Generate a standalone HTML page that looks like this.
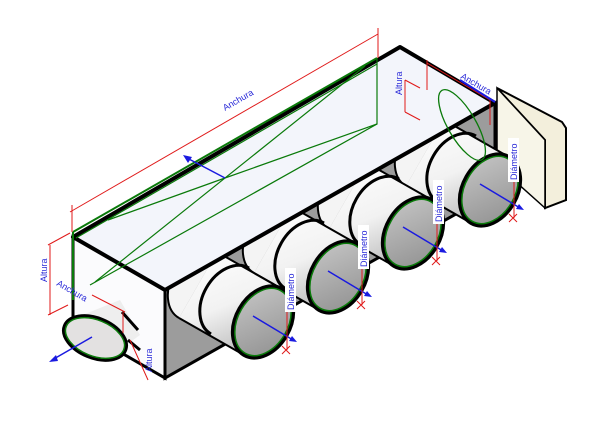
<!DOCTYPE html>
<html><head><meta charset="utf-8"><style>
html,body{margin:0;padding:0;background:#fff;width:600px;height:425px;overflow:hidden}
text{font-family:"Liberation Sans",sans-serif;font-size:9px;fill:#2a2ad8}
</style></head><body>
<svg width="600" height="425" viewBox="0 0 600 425" xmlns="http://www.w3.org/2000/svg">
<defs>
<linearGradient id="cyl" x1="0" y1="0" x2="0.4" y2="1">
<stop offset="0" stop-color="#ffffff"/><stop offset="0.6" stop-color="#f2f2f2"/><stop offset="1" stop-color="#c4c4c4"/></linearGradient>
<linearGradient id="cap" x1="0" y1="0" x2="1" y2="1">
<stop offset="0" stop-color="#c8c8c8"/><stop offset="1" stop-color="#8e8e8e"/></linearGradient>
<g id="c">
<polygon points="19,-33 -19,33 -84,-4 -46,-70" fill="url(#cyl)"/>
<path d="M-46,-70 A27,38 30 0,0 -84,-4" fill="#f4f4f4" stroke="#000" stroke-width="2"/>
<line x1="19" y1="-33" x2="-46" y2="-70" stroke="#000" stroke-width="2"/>
<line x1="-19" y1="33" x2="-84" y2="-4" stroke="#000" stroke-width="2"/>
<path d="M-14,-54 A27,38 30 0,0 -52,12" fill="none" stroke="#000" stroke-width="3"/>
<ellipse cx="0" cy="0" rx="27" ry="38" transform="rotate(30 0 0)" fill="url(#cap)" stroke="#000" stroke-width="4"/>
<ellipse cx="0" cy="0" rx="25" ry="36" transform="rotate(30 0 0)" fill="none" stroke="#0a7a0a" stroke-width="1.5"/>
<line x1="-10" y1="-6" x2="30" y2="18" stroke="#1a1ae0" stroke-width="1.5"/>
<polygon points="34,20 26,19 29,14" fill="#1a1ae0"/>
<line x1="24" y1="-30" x2="24" y2="28" stroke="#e01a1a" stroke-width="1"/>
<path d="M19,24 l8,8 M27,24 l-8,8" stroke="#e01a1a" stroke-width="1"/>
</g>
</defs>
<!-- right end plug -->
<polygon points="497,88 562,122 566,128 566,200 545,208 545,140" fill="#f3efdc" stroke="#000" stroke-width="2"/>
<polygon points="497,88 545,140 545,208 497,165" fill="#f7f5e8" stroke="#000" stroke-width="1.5"/>
<!-- box -->
<polygon points="73,237 165,290 165,378 73,325" fill="#fbfbfd" stroke="#000" stroke-width="3"/>
<polygon points="165,290 495,103 495,192 165,378" fill="#9c9c9c" stroke="#000" stroke-width="3"/>
<!-- cylinders back to front -->
<use href="#c" x="490" y="190"/>
<use href="#c" x="413" y="233"/>
<use href="#c" x="338" y="277"/>
<use href="#c" x="263" y="322"/>
<!-- top face over cylinders -->
<polygon points="73,237 400,47 495,103 165,290" fill="#f3f5fb" stroke="#000" stroke-width="4" stroke-linejoin="round"/>
<!-- green top lines -->
<polyline points="73,232 377,58" fill="none" stroke="#0a7a0a" stroke-width="2"/>
<polyline points="76,238 377,64" fill="none" stroke="#0a7a0a" stroke-width="1.2"/>
<polyline points="73,232 73,300" fill="none" stroke="#0a7a0a" stroke-width="2"/>
<polyline points="377,58 377,124 90,285" fill="none" stroke="#0a7a0a" stroke-width="1.2"/>
<polyline points="377,124 225,178 108,220" fill="none" stroke="#0a7a0a" stroke-width="1.2"/>
<polyline points="365,66 95,282" fill="none" stroke="#0a7a0a" stroke-width="1.2"/>
<!-- inlet -->
<path d="M70,320 L120,300 L140,335 L110,357 Z" fill="#eee"/>
<path d="M122,312 L138,330 M128,340 L140,350" stroke="#000" stroke-width="3"/>
<ellipse cx="95" cy="338" rx="33" ry="20" transform="rotate(22 95 338)" fill="#e3e1e1" stroke="#000" stroke-width="3"/>
<ellipse cx="95" cy="338" rx="31" ry="18" transform="rotate(22 95 338)" fill="none" stroke="#0a7a0a" stroke-width="1.5"/>
<line x1="92" y1="337" x2="52" y2="360" stroke="#1a1ae0" stroke-width="1.5"/>
<polygon points="49,362 56,355 58,361" fill="#1a1ae0"/>
<!-- top right green ellipse -->
<ellipse cx="462" cy="125" rx="14" ry="40" transform="rotate(-30 462 125)" fill="none" stroke="#0a7a0a" stroke-width="1.3"/>
<!-- dims red -->
<g stroke="#e01a1a" stroke-width="1" fill="none">
<line x1="70" y1="212" x2="378" y2="34"/>
<line x1="72" y1="205" x2="72" y2="232"/><line x1="378" y1="28" x2="378" y2="58"/>
<line x1="50" y1="245" x2="50" y2="315"/>
<line x1="48" y1="245" x2="70" y2="233"/><line x1="48" y1="315" x2="68" y2="305"/>
<line x1="92" y1="295" x2="125" y2="312"/><line x1="123" y1="312" x2="123" y2="333"/>
<line x1="130" y1="340" x2="148" y2="380"/>
<line x1="405" y1="80" x2="405" y2="112"/><line x1="405" y1="80" x2="420" y2="88"/><line x1="405" y1="112" x2="420" y2="120"/>
<line x1="427" y1="63" x2="490" y2="100"/><line x1="427" y1="60" x2="427" y2="90"/><line x1="490" y1="100" x2="490" y2="125"/>
</g>
<line x1="225" y1="178" x2="187" y2="158" stroke="#1a1ae0" stroke-width="1.5"/>
<polygon points="183,155 192,157 188,163" fill="#1a1ae0"/>
<line x1="460" y1="80" x2="495" y2="102" stroke="#1a1ae0" stroke-width="2"/>
<!-- labels -->
<text transform="translate(225,111) rotate(-30)">Anchura</text>
<text transform="translate(47,282) rotate(-90)">Altura</text>
<text transform="translate(56,285) rotate(30)">Anchura</text>
<text transform="translate(152,372) rotate(-90)">Altura</text>
<text transform="translate(402,95) rotate(-90)">Altura</text>
<text transform="translate(460,78) rotate(30)">Anchura</text>
<g fill="#fff"><rect x="285" y="268" width="11" height="44"/><rect x="358" y="225" width="11" height="44"/><rect x="433" y="180" width="11" height="44"/><rect x="508" y="138" width="11" height="44"/></g>
<text transform="translate(294,310) rotate(-90)">Diámetro</text>
<text transform="translate(367,267) rotate(-90)">Diámetro</text>
<text transform="translate(442,222) rotate(-90)">Diámetro</text>
<text transform="translate(517,180) rotate(-90)">Diámetro</text>
</svg>
</body></html>
